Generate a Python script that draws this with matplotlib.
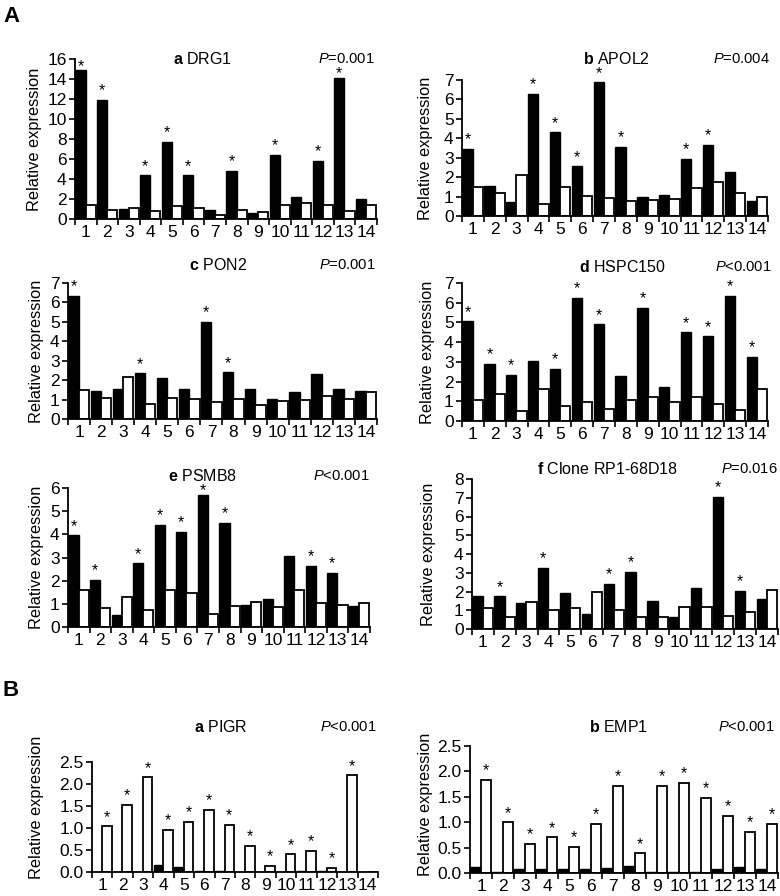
import matplotlib
matplotlib.use("Agg")
import matplotlib.pyplot as plt
from matplotlib import font_manager
import numpy as np

plt.rcParams['font.family'] = ['Liberation Sans', 'DejaVu Sans']
plt.rcParams['mathtext.fontset'] = 'custom'
plt.rcParams['mathtext.rm'] = 'Liberation Sans'
plt.rcParams['mathtext.it'] = 'Liberation Sans:italic'
plt.rcParams['mathtext.bf'] = 'Liberation Sans:bold'

_names = {f.name for f in font_manager.fontManager.ttflist}
NARROW = 'Liberation Sans Narrow' in _names

samples = [str(i) for i in range(1, 15)]

# Panel A-a DRG1
drg1_black = [14.9, 11.9, 0.95, 4.35, 7.7, 4.35, 0.9, 4.8, 0.6, 6.4, 2.2, 5.8, 14.1, 2.0]
drg1_white = [1.4, 0.9, 1.1, 0.75, 1.3, 1.05, 0.4, 0.9, 0.7, 1.4, 1.6, 1.4, 0.75, 1.4]
drg1_stars = [1, 2, 4, 5, 6, 8, 10, 12, 13]
# Panel A-b APOL2
apol2_black = [3.45, 1.55, 0.7, 6.3, 4.3, 2.55, 6.9, 3.57, 0.96, 1.1, 2.95, 3.65, 2.25, 0.75]
apol2_white = [1.5, 1.2, 2.1, 0.6, 1.51, 1.03, 0.94, 0.79, 0.8, 0.9, 1.45, 1.75, 1.2, 1.0]
apol2_stars = [1, 4, 5, 6, 7, 8, 11, 12]
# Panel A-c PON2
pon2_black = [6.35, 1.45, 1.55, 2.35, 2.1, 1.55, 5.0, 2.4, 1.54, 1.03, 1.37, 2.32, 1.54, 1.46]
pon2_white = [1.5, 1.1, 2.15, 0.75, 1.1, 1.05, 0.85, 1.05, 0.74, 0.94, 0.98, 1.18, 1.03, 1.37]
pon2_stars = [1, 4, 7, 8]
# Panel A-d HSPC150
hspc_black = [5.05, 2.9, 2.35, 3.05, 2.65, 6.25, 4.9, 2.3, 5.75, 1.7, 4.5, 4.3, 6.35, 3.25]
hspc_white = [1.05, 1.35, 0.5, 1.6, 0.75, 0.95, 0.6, 1.05, 1.2, 0.95, 1.2, 0.85, 0.55, 1.6]
hspc_stars = [1, 2, 3, 5, 6, 7, 9, 11, 12, 13, 14]
# Panel A-e PSMB8
psmb8_black = [3.95, 2.05, 0.5, 2.75, 4.4, 4.1, 5.7, 4.5, 0.95, 1.2, 3.05, 2.65, 2.35, 0.9]
psmb8_white = [1.6, 0.8, 1.3, 0.75, 1.6, 1.45, 0.55, 0.9, 1.1, 0.85, 1.6, 1.05, 0.95, 1.05]
psmb8_stars = [1, 2, 4, 5, 6, 7, 8, 12, 13]
# Panel A-f Clone RP1-68D18
clone_black = [1.75, 1.75, 1.4, 3.25, 1.9, 0.8, 2.4, 3.05, 1.5, 0.65, 2.2, 7.05, 2.05, 1.6]
clone_white = [1.1, 0.65, 1.45, 1.0, 1.1, 2.0, 1.0, 0.65, 0.65, 1.2, 1.2, 0.7, 0.9, 2.1]
clone_stars = [2, 4, 7, 8, 12, 13]
# Panel B-a PIGR
pigr_black = [0, 0, 0, 0.15, 0.12, 0.02, 0.02, 0, 0, 0, 0.02, 0.03, 0, 0]
pigr_white = [1.04, 1.53, 2.15, 0.96, 1.14, 1.42, 1.07, 0.6, 0.14, 0.4, 0.48, 0.1, 2.2, 0]
pigr_stars = [1, 2, 3, 4, 5, 6, 7, 8, 9, 10, 11, 12, 13]
# Panel B-b EMP1
emp1_black = [0.12, 0.02, 0.07, 0.07, 0.07, 0.07, 0.1, 0.14, 0.02, 0.02, 0.02, 0.08, 0.11, 0.08]
emp1_white = [1.84, 1.0, 0.58, 0.7, 0.51, 0.97, 1.71, 0.39, 1.71, 1.78, 1.48, 1.13, 0.81, 0.97]
emp1_stars = list(range(1, 15))

W, H = 780, 896
fig = plt.figure(figsize=(W / 100, H / 100), dpi=100)

TICK_FS = 12.5
TITLE_FS = 11.5
LAB_FS = 11.8
if NARROW:
    P_KW = dict(family=['Liberation Sans Narrow', 'Liberation Sans'], fontsize=11.5)
else:
    P_KW = dict(fontsize=10.6)


def px_rect(x0, x1, ytop, ybot):
    return [x0 / W, 1 - ybot / H, (x1 - x0) / W, (ybot - ytop) / H]


panels = [
    dict(rect=(75, 377, 59, 219), black=drg1_black, white=drg1_white, stars=drg1_stars, star_on='black',
         ymax=16, yticks=list(range(0, 17, 2)), fmt='{:.0f}', letter='a', name='DRG1', p='=0.001',
         tl=(173, 59), pr=375, ylab=(35, None)),
    dict(rect=(462, 768, 80, 216), black=apol2_black, white=apol2_white, stars=apol2_stars, star_on='black',
         ymax=7, yticks=list(range(0, 8)), fmt='{:.0f}', letter='b', name='APOL2', p='=0.004',
         tl=(582.7, 59), pr=770, ylab=(426, None)),
    dict(rect=(68, 377, 283, 419), black=pon2_black, white=pon2_white, stars=pon2_stars, star_on='black',
         ymax=7, yticks=list(range(0, 8)), fmt='{:.0f}', letter='c', name='PON2', p='=0.001',
         tl=(189.3, 265), pr=376, ylab=(37, None)),
    dict(rect=(462, 768, 283, 421), black=hspc_black, white=hspc_white, stars=hspc_stars, star_on='black',
         ymax=7, yticks=list(range(0, 8)), fmt='{:.0f}', letter='d', name='HSPC150', p='<0.001',
         tl=(579.3, 267), pr=771.7, ylab=(427, None)),
    dict(rect=(68, 370, 488, 627), black=psmb8_black, white=psmb8_white, stars=psmb8_stars, star_on='black',
         ymax=6, yticks=list(range(0, 7)), fmt='{:.0f}', letter='e', name='PSMB8', p='<0.001',
         tl=(168.3, 476), pr=370, ylab=(37, None)),
    dict(rect=(472, 778, 479, 629), black=clone_black, white=clone_white, stars=clone_stars, star_on='black',
         ymax=8, yticks=list(range(0, 9)), fmt='{:.0f}', letter='f', name='Clone RP1-68D18', p='=0.016',
         tl=(536.7, 469), pr=778, ylab=(428, None)),
    dict(rect=(92, 378, 762, 872), black=pigr_black, white=pigr_white, stars=pigr_stars, star_on='white',
         ymax=2.5, yticks=[0, 0.5, 1.0, 1.5, 2.0, 2.5], fmt='{:.1f}', letter='a', name='PIGR', p='<0.001',
         tl=(194, 727), pr=376.7, ylab=(37, 807)),
    dict(rect=(470, 778, 746, 873), black=emp1_black, white=emp1_white, stars=emp1_stars, star_on='white',
         ymax=2.5, yticks=[0, 0.5, 1.0, 1.5, 2.0, 2.5], fmt='{:.1f}', letter='b', name='EMP1', p='<0.001',
         tl=(589, 727), pr=775, ylab=(426, 804)),
]

bw = 0.47
x = np.arange(14)
for pnl in panels:
    x0, x1, yt, yb = pnl['rect']
    lx, ty = pnl['tl']
    ax = fig.add_axes(px_rect(x0, x1, yt, yb))
    blk = np.array(pnl['black'])
    wht = np.array(pnl['white'])
    ax.bar(x + 0.02, blk, width=bw, align='edge', color='black', edgecolor='black', linewidth=1.0)
    ax.bar(x + 0.02 + bw, wht, width=bw, align='edge', color='white', edgecolor='black', linewidth=1.3)
    ax.set_xlim(0, 14)
    ax.set_ylim(0, pnl['ymax'])
    for s in ['top', 'right']:
        ax.spines[s].set_visible(False)
    for s in ['left', 'bottom']:
        ax.spines[s].set_linewidth(1.3)
    ax.set_yticks(pnl['yticks'])
    ax.set_yticklabels([pnl['fmt'].format(v) for v in pnl['yticks']], fontsize=TICK_FS)
    ax.set_xticks(x + 0.5)
    ax.set_xticklabels(samples, fontsize=TICK_FS)
    ax.set_xticks(np.arange(15), minor=True)
    ax.tick_params(axis='x', which='major', length=0, pad=4)
    ax.tick_params(axis='x', which='minor', length=4, width=1.2, direction='out')
    ax.tick_params(axis='y', length=4, width=1.2, direction='out', pad=2)
    ax.patch.set_alpha(0)
    # significance stars: ~12 px above the bar, but kept clear of the title row
    ppu = (yb - yt) / pnl['ymax']  # pixels per unit
    for s in pnl['stars']:
        i = s - 1
        if pnl['star_on'] == 'black':
            xc = i + 0.02 + bw / 2
            v = blk[i]
        else:
            xc = i + 0.02 + bw * 1.5
            v = wht[i]
        bar_px = yb - v * ppu
        vis_px = max(bar_px - 12.5, ty + 11)
        anchor_px = min(vis_px + 3.5, bar_px - 3)
        ax.text(xc, (yb - anchor_px) / ppu, '*', ha='center', va='center', fontsize=11.5, clip_on=False)
    # titles
    fig.text(lx / W, 1 - ty / H, r'$\mathbf{' + pnl['letter'] + '}$ ' + pnl['name'],
             fontsize=TITLE_FS, ha='left', va='center')
    fig.text(pnl['pr'] / W, 1 - ty / H, r'$P$' + pnl['p'], ha='right', va='center', **P_KW)
    # y label
    lxp, lyp = pnl['ylab']
    if lyp is None:
        lyp = (yt + yb) / 2
    fig.text(lxp / W, 1 - lyp / H, 'Relative expression', rotation=90, fontsize=LAB_FS, ha='center', va='center')

fig.text(3 / W, 1 - 16 / H, 'A', fontsize=16, fontweight='bold', ha='left', va='center')
fig.text(3 / W, 1 - 690 / H, 'B', fontsize=16, fontweight='bold', ha='left', va='center')

fig.savefig('out.png', dpi=100)
